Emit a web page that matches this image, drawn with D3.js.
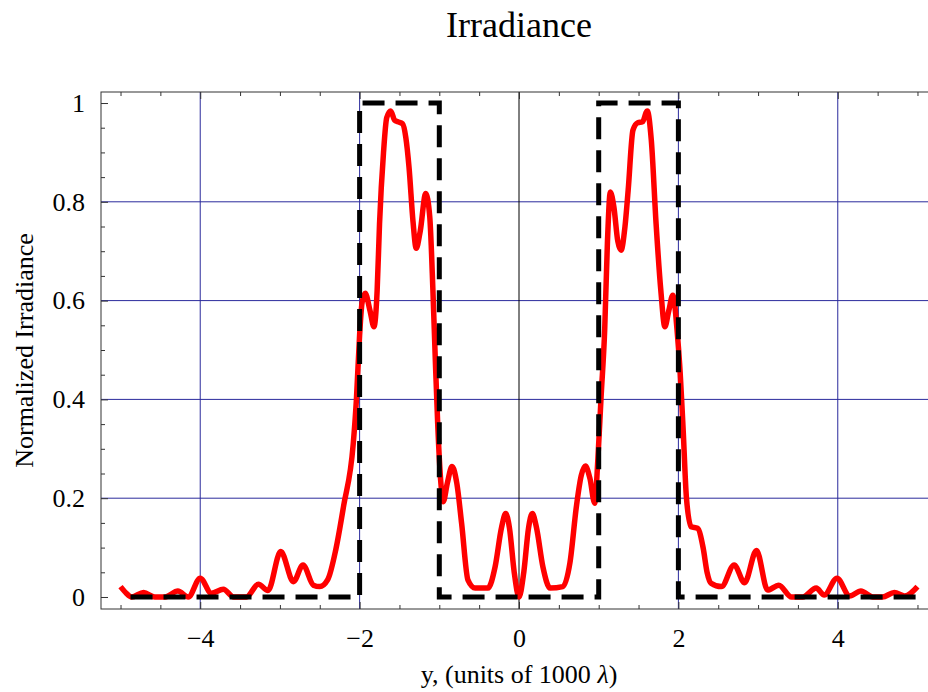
<!DOCTYPE html>
<html>
<head>
<meta charset="utf-8">
<script src="https://cdn.jsdelivr.net/npm/d3@7"></script>
<style>
body{margin:0;background:#fff;}
text{font-family:"Liberation Serif","DejaVu Serif","Times New Roman",serif;fill:#000;}
</style>
</head>
<body>
<svg id="chart" width="928" height="692"></svg>
<script>
// red curve: normalized irradiance
const irrX=[-5.00,-4.93,-4.86,-4.71,-4.57,-4.44,-4.28,-4.15,-4.00,-3.86,-3.71,-3.58,-3.42,-3.27,-3.15,-2.99,-2.83,-2.71,-2.58,-2.50,
  -2.40,-2.30,-2.20,-2.08,-2.04,-2.00,-1.97,-1.93,-1.87,-1.82,-1.78,-1.75,-1.70,-1.66,-1.61,-1.56,-1.52,-1.46,-1.42,-1.38,
  -1.33,-1.29,-1.24,-1.17,-1.12,-1.08,-1.05,-1.02,-0.98,-0.95,-0.90,-0.84,-0.78,-0.72,-0.64,-0.55,-0.39,-0.30,-0.22,-0.167,
  -0.12,-0.06,0,0.06,0.12,0.167,0.22,0.30,0.39,0.55,0.64,0.72,0.78,0.833,0.89,0.95,0.99,1.03,1.075,1.11,
  1.146,1.19,1.24,1.28,1.33,1.37,1.43,1.49,1.55,1.61,1.66,1.72,1.78,1.83,1.88,1.93,1.99,2.015,2.06,2.10,
  2.16,2.24,2.31,2.36,2.41,2.54,2.70,2.83,2.98,3.12,3.26,3.42,3.56,3.73,3.83,3.99,4.15,4.29,4.44,4.56,
  4.71,4.84,5.00];
const irrY=[0.021,0.008,0.0,0.009,0.0,0.0,0.012,0.0,0.038,0.0075,0.0155,0.0,0.0,0.026,0.013,0.092,0.031,0.065,0.024,0.021,
  0.035,0.095,0.185,0.31,0.40,0.53,0.595,0.615,0.58,0.547,0.62,0.756,0.90,0.97,0.984,0.965,0.962,0.958,0.93,0.87,
  0.76,0.706,0.74,0.817,0.77,0.62,0.48,0.35,0.23,0.193,0.23,0.264,0.23,0.149,0.034,0.018,0.018,0.061,0.14,0.169,
  0.14,0.05,0.0,0.05,0.14,0.169,0.14,0.061,0.018,0.021,0.07,0.183,0.245,0.265,0.24,0.19,0.28,0.405,0.54,0.72,
  0.82,0.79,0.72,0.702,0.75,0.824,0.945,0.96,0.962,0.984,0.925,0.756,0.62,0.547,0.58,0.611,0.527,0.473,0.338,0.203,
  0.142,0.139,0.10,0.05,0.028,0.021,0.065,0.029,0.094,0.014,0.024,0.0,0.0,0.018,0.004,0.038,0.002,0.012,0.0,0.0,
  0.009,0.002,0.021];

// dashed black: the two slits
const slitX=[-5,-2,-2,-1,-1,1,1,2,2,5];
const slitY=[0,0,1,1,0,0,1,1,0,0];

const xTicks=[-4,-2,0,2,4];
const xMinor=[-5,-4.5,-3.5,-3,-2.5,-1.5,-1,-0.5,0.5,1,1.5,2.5,3,3.5,4.5,5];
const yTicks=[0,0.2,0.4,0.6,0.8,1];
const yMinor=d3.range(0,1.0001,0.05).filter(v=>Math.abs(v*5-Math.round(v*5))>1e-6);
const xGrid=[-4,-2,2,4];
const yGrid=[0.2,0.4,0.6,0.8];

const mLeft=101, mTop=92, plotW=836, plotH=517;
const svg=d3.select('#chart');

const x=d3.scaleLinear().domain([-5.245,5.245]).range([mLeft,mLeft+plotW]);
const y=d3.scaleLinear().domain([-0.0243,1.0223]).range([mTop+plotH,mTop]);

svg.append('defs').append('clipPath').attr('id','plotClip')
  .append('rect').attr('x',mLeft).attr('y',mTop).attr('width',plotW).attr('height',plotH);

// grid
svg.append('g').selectAll('line').data(xGrid).join('line')
  .attr('x1',d=>x(d)).attr('x2',d=>x(d)).attr('y1',mTop).attr('y2',mTop+plotH)
  .style('stroke','#2a2a9c').style('stroke-width',1);
svg.append('g').selectAll('line').data(yGrid).join('line')
  .attr('x1',mLeft).attr('x2',mLeft+plotW).attr('y1',d=>y(d)).attr('y2',d=>y(d))
  .style('stroke','#2a2a9c').style('stroke-width',1);
// y axis through the origin
svg.append('line').attr('x1',x(0)).attr('x2',x(0)).attr('y1',mTop).attr('y2',mTop+plotH)
  .style('stroke','#000').style('stroke-width',1);

// frame ticks, all pointing inwards
function frameAxis(axis,tx,ty,vals,size,labels){
  const g=svg.append('g').attr('transform','translate('+tx+','+ty+')')
    .call(axis.tickValues(vals).tickSize(-size).tickPadding(labels?labels:0)
      .tickFormat(labels?d3.format('~g'):''));
  g.select('.domain').remove();
  g.selectAll('.tick line').style('stroke','#333').style('stroke-width',1);
  g.selectAll('text').style('font-size','26px').style('font-family','"Liberation Serif",serif');
  return g;
}
frameAxis(d3.axisBottom(x),0,mTop+plotH,xTicks,7,20);
frameAxis(d3.axisBottom(x),0,mTop+plotH,xMinor,4,0);
frameAxis(d3.axisTop(x),0,mTop,xTicks,7,0);
frameAxis(d3.axisTop(x),0,mTop,xMinor,4,0);
frameAxis(d3.axisLeft(y),mLeft,0,yTicks,7,16);
frameAxis(d3.axisLeft(y),mLeft,0,yMinor,4,0);

// frame
svg.append('rect').attr('x',mLeft).attr('y',mTop).attr('width',plotW).attr('height',plotH)
  .style('fill','none').style('stroke','#333').style('stroke-width',1);

const plot=svg.append('g').attr('clip-path','url(#plotClip)');

const irrLine=d3.line().x(d=>x(d[0])).y(d=>y(d[1])).curve(d3.curveMonotoneX);
plot.append('path').datum(irrX.map((v,i)=>[v,irrY[i]]))
  .attr('d',irrLine)
  .style('fill','none').style('stroke','#ff0000').style('stroke-width',5.5)
  .style('stroke-linejoin','round');

const slitLine=d3.line().x(d=>x(d[0])).y(d=>y(d[1]));
plot.append('path').datum(slitX.map((v,i)=>[v,slitY[i]]))
  .attr('d',slitLine)
  .style('fill','none').style('stroke','#000').style('stroke-width',5)
  .style('stroke-dasharray','22,11').style('stroke-dashoffset',23);

// texts
svg.append('text').attr('x',519).attr('y',37).attr('text-anchor','middle')
  .style('font-size','36px').text('Irradiance');

const xl=svg.append('text').attr('x',519).attr('y',683).attr('text-anchor','middle')
  .style('font-size','26px');
xl.append('tspan').text('y, (units of 1000 ');
xl.append('tspan').style('font-style','italic').text('λ');
xl.append('tspan').text(')');

svg.append('text').attr('transform','translate(33,'+(mTop+plotH/2)+') rotate(-90)')
  .attr('text-anchor','middle').style('font-size','26px').text('Normalized Irradiance');
</script>
</body>
</html>
